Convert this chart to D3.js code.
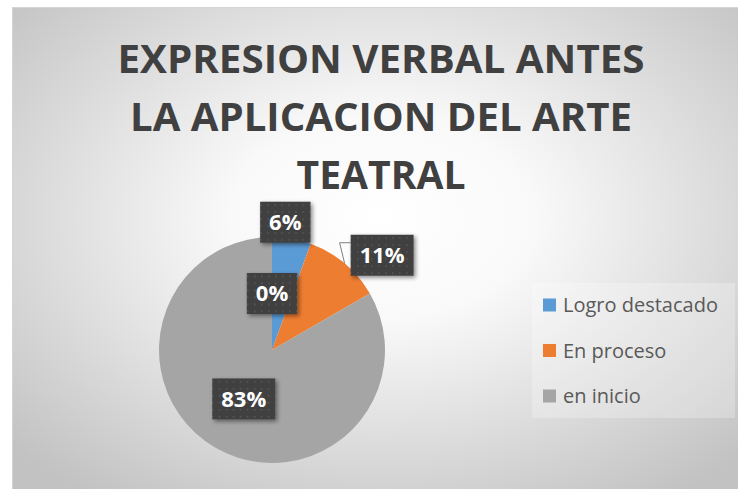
<!DOCTYPE html>
<html>
<head>
<meta charset="utf-8">
<script src="https://cdn.jsdelivr.net/npm/d3@7"></script>
<style>
  body { margin: 0; background: #fff; }
  svg { display: block; }
</style>
</head>
<body>
<div class="board"></div>
<script>

var titleLines = ['EXPRESION VERBAL ANTES', 'LA APLICACION DEL ARTE', 'TEATRAL'];
var categories = ['Logro destacado', 'En proceso', 'en inicio', ''];
var counts = [1, 2, 15, 0];
var colors = ['#5B9BD5', '#ED7D31', '#A5A5A5', '#FFC000'];

var width = 738, height = 489;

var svg = d3.select('.board').append('svg')
            .attr('width', width)
            .attr('height', height);

var defs = svg.append('defs');

var grad = defs.append('radialGradient')
               .attr('id', 'bg')
               .attr('cx', '50%').attr('cy', '42%').attr('r', '68%');
grad.append('stop').attr('offset', '0').attr('stop-color', '#ffffff');
grad.append('stop').attr('offset', '0.3').attr('stop-color', '#f9f9f9');
grad.append('stop').attr('offset', '1').attr('stop-color', '#c2c2c2');

var dots = defs.append('pattern')
               .attr('id', 'dots')
               .attr('width', 7).attr('height', 7)
               .attr('patternUnits', 'userSpaceOnUse');
dots.append('rect').attr('width', 7).attr('height', 7).attr('fill', '#404040');
dots.append('rect').attr('x', 3).attr('y', 3).attr('width', 1.5).attr('height', 1.5).attr('fill', '#5a5a5a');

var shadow = defs.append('filter').attr('id', 'shadow')
                 .attr('x', '-30%').attr('y', '-30%').attr('width', '160%').attr('height', '160%');
shadow.append('feDropShadow')
      .attr('dx', 2).attr('dy', 2).attr('stdDeviation', 2)
      .attr('flood-color', '#000').attr('flood-opacity', 0.45);

// chart area
svg.append('rect')
   .attr('x', 12.5).attr('y', 7.5)
   .attr('width', 740).attr('height', 500)
   .attr('fill', 'url(#bg)')
   .attr('stroke', '#d4d4d4');

// title
var titleWidths = [527, 502, 169];
svg.append('g').selectAll('text')
   .data(titleLines)
   .enter()
   .append('text')
   .attr('x', 381)
   .attr('y', function(d, i) { return 73 + i * 58; })
   .attr('text-anchor', 'middle')
   .attr('font-family', '"Open Sans", sans-serif')
   .attr('font-weight', 'bold')
   .attr('font-size', 40)
   .attr('fill', '#404040')
   .attr('textLength', function(d, i) { return titleWidths[i]; })
   .attr('lengthAdjust', 'spacingAndGlyphs')
   .text(function(d) { return d; });

// pie
var cx = 272, cy = 350, r = 113;
var total = d3.sum(counts);
var pct = d3.format('.0%');

var pie = d3.pie().sort(null).value(function(d) { return d; });
var arcs = pie(counts);
var arc = d3.arc().innerRadius(0).outerRadius(r);
var midArc = d3.arc().innerRadius(r / 2).outerRadius(r / 2);

var g = svg.append('g').attr('transform', 'translate(' + cx + ',' + cy + ')');

g.selectAll('path')
 .data(arcs)
 .enter()
 .append('path')
 .attr('d', arc)
 .attr('fill', function(d, i) { return colors[i]; });

// data labels
var boxH = 41, pad = 9;
var labels = arcs.map(function(d, i) {
  var share = d.value / total;
  var mid = (d.startAngle + d.endAngle) / 2;
  return { text: pct(share), share: share, mid: mid, i: i };
});

var lg = g.selectAll('g.lab')
          .data(labels)
          .enter()
          .append('g')
          .attr('class', 'lab');

lg.append('text')
  .attr('font-family', '"Open Sans", sans-serif')
  .attr('font-weight', 'bold')
  .attr('font-size', 22)
  .attr('fill', '#fff')
  .attr('text-anchor', 'middle')
  .attr('dy', '0.36em')
  .text(function(d) { return d.text; });

lg.each(function(d) {
  var t = d3.select(this).select('text');
  var w = t.node().getComputedTextLength() + pad * 2;
  var x, y;
  var ex = Math.sin(d.mid) * r, ey = -Math.cos(d.mid) * r;
  if (d.share === 0 || d.share > 0.2) {
    var c = midArc.centroid({ startAngle: d.mid, endAngle: d.mid });
    x = c[0]; y = c[1];
  } else if (Math.abs(Math.sin(d.mid)) > 0.5) {
    // pushed to the side, with leader line
    x = ex + 6 + w / 2;
    y = ey - boxH / 5;
    var left = x - w / 2, top = y - boxH / 2;
    g.insert('polyline', 'g.lab')
     .attr('points', [[ex, ey], [left - 11, top + 8], [left, top + 8]].join(' '))
     .attr('fill', 'none')
     .attr('stroke', '#7f7f7f')
     .attr('stroke-width', 1);
  } else {
    x = ex - w / 8;
    y = ey - boxH / 2 + 4;
  }
  d3.select(this)
    .attr('transform', 'translate(' + x + ',' + y + ')')
    .insert('rect', 'text')
    .attr('x', -w / 2).attr('y', -boxH / 2)
    .attr('width', w).attr('height', boxH)
    .attr('fill', 'url(#dots)')
    .attr('filter', 'url(#shadow)');
});

// legend
var legendItems = categories
  .map(function(c, i) { return { name: c, color: colors[i] }; })
  .filter(function(d) { return d.name !== ''; });

svg.append('rect')
   .attr('x', 532).attr('y', 283)
   .attr('width', 203).attr('height', 135)
   .attr('fill', '#ffffff').attr('fill-opacity', 0.25);

var leg = svg.append('g').selectAll('g')
             .data(legendItems)
             .enter()
             .append('g')
             .attr('transform', function(d, i) { return 'translate(543,' + (305 + i * 45.5) + ')'; });

leg.append('rect')
   .attr('x', 0).attr('y', -6.5)
   .attr('width', 13).attr('height', 13)
   .attr('fill', function(d) { return d.color; });

leg.append('text')
   .attr('x', 20)
   .attr('dy', '0.36em')
   .attr('font-family', '"Open Sans", sans-serif')
   .attr('font-size', 20)
   .attr('fill', '#595959')
   .text(function(d) { return d.name; });

</script>
</body>
</html>
